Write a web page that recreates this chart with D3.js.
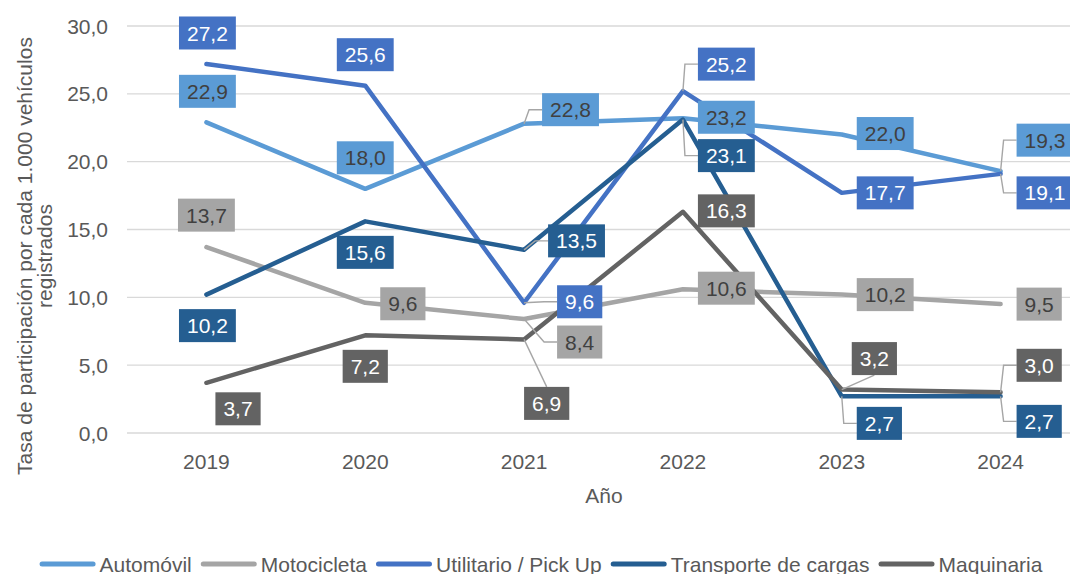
<!DOCTYPE html>
<html>
<head>
<meta charset="utf-8">
<script src="https://cdn.jsdelivr.net/npm/d3@7"></script>
<style>
  body { margin: 0; background: #fff; }
  svg { font-family: "Liberation Sans", Arial, sans-serif; }
</style>
</head>
<body>
<div id="chart"></div>
<script>
// chart values
const years = ["2019", "2020", "2021", "2022", "2023", "2024"];
const seriesNames = ["Automóvil", "Motocicleta", "Utilitario / Pick Up", "Transporte de cargas", "Maquinaria"];
const automovil = [22.9, 18.0, 22.8, 23.2, 22.0, 19.3];
const motocicleta = [13.7, 9.6, 8.4, 10.6, 10.2, 9.5];
const utilitario = [27.2, 25.6, 9.6, 25.2, 17.7, 19.1];
const transporte = [10.2, 15.6, 13.5, 23.1, 2.7, 2.7];
const maquinaria = [3.7, 7.2, 6.9, 16.3, 3.2, 3.0];
const yTicks = [0, 5, 10, 15, 20, 25, 30];

const seriesValues = [automovil, motocicleta, utilitario, transporte, maquinaria];
const colors = ["#5B9BD5", "#A5A5A5", "#4472C4", "#255E91", "#636363"];
const labelTextColors = ["#404040", "#404040", "#fff", "#fff", "#fff"];

// label placement: [anchor, dx, dy, leader]
// anchor "c" -> dx to box centre, "l" -> dx to box left edge; leader "e" elbow, "v" straight
const labelPlacement = [
  [["c", 1, -31], ["c", 0, -31], ["l", 18, -14, "e"], ["l", 15, -1], ["l", 15, -1], ["l", 16, -31, "e"]],
  [["c", 0, -32], ["l", 15, 1], ["l", 33, 23, "e"], ["l", 15, -1], ["l", 15, 0], ["l", 16, 0]],
  [["c", 1, -31], ["c", 0, -31], ["l", 33, -1, "e"], ["l", 15, -27, "e"], ["l", 15, 0], ["l", 16, 19, "e"]],
  [["c", 1, 31], ["c", 0, 31], ["l", 24, -9, "e"], ["l", 15, 36, "e"], ["l", 15, 27, "e"], ["l", 16, 25, "e"]],
  [["l", 9, 26], ["c", 0, 31], ["l", 0, 64, "v"], ["l", 15, -1], ["l", 10, -31, "v"], ["l", 16, -27, "e"]]
];

const width = 1070;
const height = 574;
const marginTop = 26;
const marginLeft = 127;
const plotRight = 1080;
const plotBottom = 433;
const fmt = v => d3.format(".1f")(v).replace(".", ",");

const svg = d3.select("#chart")
  .append("svg")
  .attr("width", width)
  .attr("height", height)
  .attr("viewBox", [0, 0, width, height]);

const x = d3.scaleBand()
  .domain(years)
  .range([marginLeft, plotRight])
  .padding(0);
const cx = d => x(d) + x.bandwidth() / 2;

const y = d3.scaleLinear()
  .domain([0, 30])
  .range([plotBottom, marginTop]);

// gridlines
svg.append("g")
  .selectAll("line")
  .data(yTicks)
  .join("line")
  .attr("x1", marginLeft)
  .attr("x2", plotRight)
  .attr("y1", d => y(d))
  .attr("y2", d => y(d))
  .attr("stroke", "#D9D9D9")
  .attr("stroke-width", 1.4);

// y tick labels
svg.append("g")
  .selectAll("text")
  .data(yTicks)
  .join("text")
  .attr("x", 108)
  .attr("y", d => y(d))
  .attr("dy", "0.36em")
  .attr("text-anchor", "end")
  .attr("font-size", 21)
  .attr("fill", "#595959")
  .text(d => fmt(d));

// x tick labels
svg.append("g")
  .selectAll("text")
  .data(years)
  .join("text")
  .attr("x", d => cx(d))
  .attr("y", 469)
  .attr("text-anchor", "middle")
  .attr("font-size", 21)
  .attr("fill", "#595959")
  .text(d => d);

// axis titles
svg.append("text")
  .attr("x", 604)
  .attr("y", 503)
  .attr("text-anchor", "middle")
  .attr("font-size", 21)
  .attr("fill", "#595959")
  .text("Año");

const yTitle = svg.append("text")
  .attr("transform", "translate(35,256) rotate(-90)")
  .attr("text-anchor", "middle")
  .attr("font-size", 21)
  .attr("fill", "#595959");
yTitle.append("tspan").attr("x", 0).attr("y", -3).text("Tasa de participación por cada 1.000 vehículos");
yTitle.append("tspan").attr("x", 0).attr("y", 17).text("registrados");

// lines
const line = d3.line()
  .x((d, i) => cx(years[i]))
  .y(d => y(d));

svg.append("g")
  .selectAll("path")
  .data(seriesValues)
  .join("path")
  .attr("d", d => line(d))
  .attr("fill", "none")
  .attr("stroke", (d, i) => colors[i])
  .attr("stroke-width", 4.5)
  .attr("stroke-linecap", "round")
  .attr("stroke-linejoin", "round");

// data labels
const labelG = svg.append("g");
const boxH = 33;
seriesValues.forEach((vals, s) => {
  vals.forEach((v, i) => {
    const [anchor, dx, dy, leader] = labelPlacement[s][i];
    const px = cx(years[i]);
    const py = y(v);
    const g = labelG.append("g");
    const rect = g.append("rect");
    const t = g.append("text")
      .attr("font-size", 21)
      .attr("fill", labelTextColors[s])
      .attr("text-anchor", "middle")
      .text(fmt(v));
    const w = t.node().getComputedTextLength() + 16;
    const bx = anchor === "c" ? px + dx - w / 2 : px + dx;
    const cy = py + dy;
    rect.attr("x", bx).attr("y", cy - boxH / 2)
      .attr("width", w).attr("height", boxH)
      .attr("fill", colors[s]);
    t.attr("x", bx + w / 2).attr("y", cy).attr("dy", "0.36em");
    if (leader) {
      let pts;
      if (leader === "e") {
        pts = [[px, py], [bx - 13, cy], [bx, cy]];
      } else {
        const ey = py > cy ? cy + boxH / 2 : cy - boxH / 2;
        pts = [[px, py], [bx + w / 2, ey]];
      }
      labelG.insert("path", ":first-child")
        .attr("d", d3.line()(pts))
        .attr("fill", "none")
        .attr("stroke", "#A6A6A6")
        .attr("stroke-width", 1.4);
    }
  });
});

// legend
const legend = svg.append("g");
let lx = 0;
seriesNames.forEach((name, i) => {
  const item = legend.append("g").attr("transform", `translate(${lx},0)`);
  item.append("line")
    .attr("x1", 2.5).attr("x2", 53.5)
    .attr("y1", 0).attr("y2", 0)
    .attr("stroke", colors[i])
    .attr("stroke-width", 5)
    .attr("stroke-linecap", "round");
  const t = item.append("text")
    .attr("x", 60)
    .attr("y", 0)
    .attr("dy", "0.36em")
    .attr("font-size", 21)
    .attr("fill", "#595959")
    .text(name);
  lx += 60 + t.node().getComputedTextLength() + 9;
});
lx -= 9;
legend.attr("transform", `translate(${(width - lx) / 2 + 6},564)`);
</script>
</body>
</html>
